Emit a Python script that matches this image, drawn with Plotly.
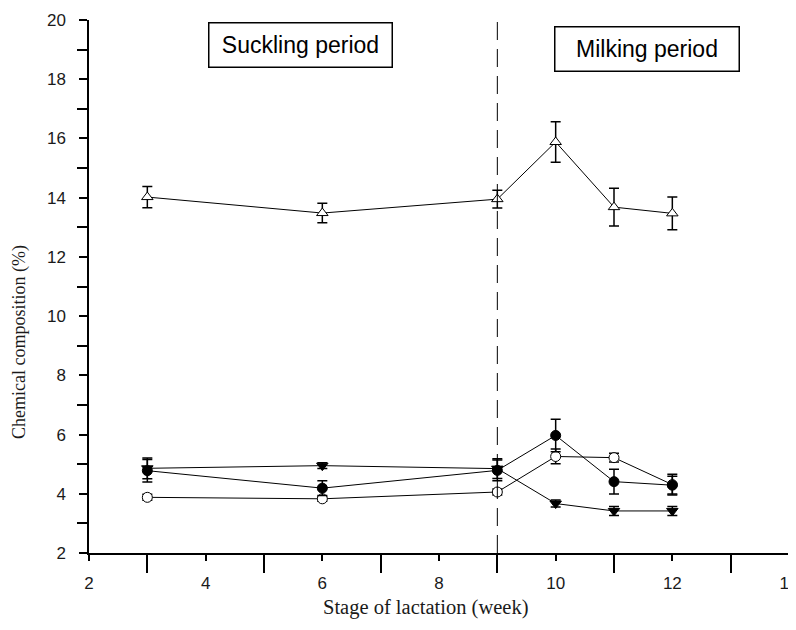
import plotly.graph_objects as go

weeks = [3, 6, 9, 10, 11, 12]

# open triangles (top series)
tri_up = [14.02, 13.48, 13.95, 15.88, 13.68, 13.47]
tri_up_err = [0.36, 0.33, 0.30, 0.68, 0.64, 0.55]

# filled circles
fcirc = [4.78, 4.19, 4.79, 5.97, 4.41, 4.29]
fcirc_err = [0.38, 0.25, 0.35, 0.55, 0.42, 0.30]

# open circles
ocirc = [3.88, 3.83, 4.06, 5.26, 5.22, 4.31]
ocirc_err = [0.10, 0.08, 0.10, 0.25, 0.15, 0.35]

# filled down-triangles
tri_dn = [4.86, 4.95, 4.85, 3.67, 3.42, 3.42]
tri_dn_err = [0.35, 0.10, 0.33, 0.12, 0.15, 0.15]

period_split = 9
box_labels = ["Suckling period", "Milking period"]
x_title = "Stage of lactation (week)"
y_title = "Chemical composition (%)"

fig = go.Figure()

def add_series(y, err, symbol, fill):
    fig.add_trace(go.Scatter(
        x=weeks, y=y, mode="lines+markers",
        line=dict(color="black", width=1),
        marker=dict(symbol=symbol, size=10, color=fill,
                    line=dict(color="black", width=1)),
        error_y=dict(type="data", array=err, visible=True,
                     color="black", thickness=1.5, width=5),
        showlegend=False,
    ))

add_series(tri_up, tri_up_err, "triangle-up", "white")
add_series(ocirc, ocirc_err, "circle", "white")
add_series(fcirc, fcirc_err, "circle", "black")
add_series(tri_dn, tri_dn_err, "triangle-down", "black")

fig.add_shape(type="line", x0=period_split, x1=period_split, y0=2, y1=20,
              xref="x", yref="y", line=dict(color="black", width=1, dash="18px,9px"))

box_font = dict(family="Liberation Sans", size=23, color="black")
fig.add_annotation(x=5.62, y=19.14, xref="x", yref="y", text=box_labels[0],
                   showarrow=False, font=box_font, width=180, height=41,
                   bordercolor="black", borderwidth=1.5, borderpad=1, bgcolor="white")
fig.add_annotation(x=11.56, y=19.01, xref="x", yref="y", text=box_labels[1],
                   showarrow=False, font=box_font, width=181, height=41,
                   bordercolor="black", borderwidth=1.5, borderpad=1, bgcolor="white")

# axis titles (placed as in the reference, not centred on the axes)
fig.add_annotation(x=0.48, y=-0.103, xref="paper", yref="paper", text=x_title,
                   showarrow=False, xanchor="center", yanchor="middle",
                   font=dict(family="Liberation Serif", size=20.5, color="#1a1a1a"))
fig.add_annotation(x=-0.0986, y=0.396, xref="paper", yref="paper", text=y_title,
                   showarrow=False, xanchor="center", yanchor="middle", textangle=-90,
                   font=dict(family="Liberation Serif", size=18, color="#1a1a1a"))

tick_font = dict(family="Liberation Sans", size=17, color="#1a1a1a")

fig.update_layout(
    width=796, height=630,
    margin=dict(l=81, r=15, t=12, b=85),
    plot_bgcolor="white", paper_bgcolor="white",
    xaxis=dict(
        range=[2, 14], dtick=2, tick0=2, showgrid=False, zeroline=False,
        automargin=False, ticklabeloverflow="allow",
        showline=True, linecolor="black", linewidth=1.5,
        ticks="outside", ticklen=6, tickcolor="black", tickwidth=1.5,
        ticklabelstandoff=8,
        minor=dict(dtick=1, ticks="outside", ticklen=18, tickcolor="black", tickwidth=1.5),
        tickfont=tick_font,
    ),
    yaxis=dict(
        range=[2, 20], dtick=2, tick0=2, showgrid=False, zeroline=False,
        automargin=False,
        showline=True, linecolor="black", linewidth=1.5,
        ticks="outside", ticklen=8, tickcolor="black", tickwidth=1.5,
        ticklabelstandoff=10,
        minor=dict(dtick=1, ticks="outside", ticklen=10, tickcolor="black", tickwidth=1.5),
        tickfont=tick_font,
    ),
)

fig.write_html("out.html")
